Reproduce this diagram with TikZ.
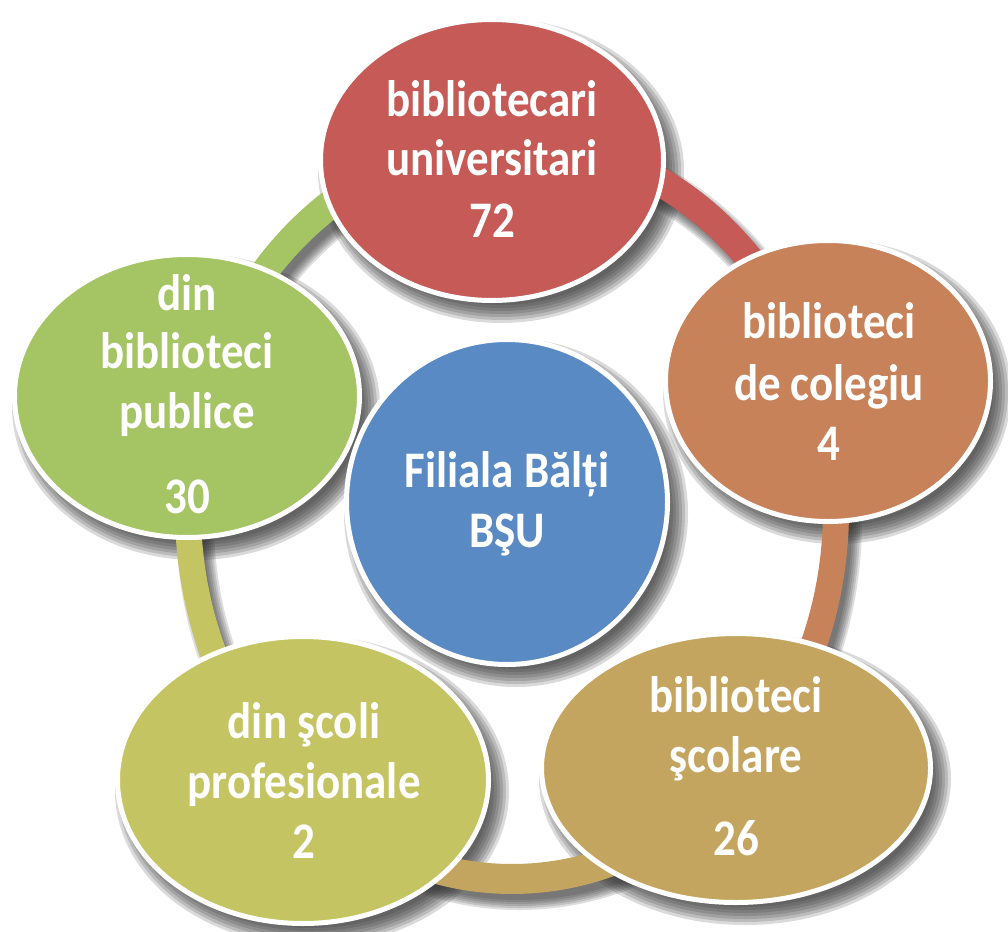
\documentclass[tikz,border=0pt]{standalone}
\usepackage{fontspec}
\newfontfamily\labfont{Carlito}[FakeStretch=0.877]
\usetikzlibrary{calc,shapes.geometric}
\definecolor{cred}{RGB}{197,90,87}
\definecolor{corange}{RGB}{199,130,90}
\definecolor{ctan}{RGB}{196,165,95}
\definecolor{cyg}{RGB}{196,196,99}
\definecolor{cgreen}{RGB}{165,196,99}
\definecolor{cblue}{RGB}{90,138,196}
\definecolor{shadowgray}{RGB}{50,50,50}
\newcommand\ellshadow[3]{%
  \foreach \k in {0,...,6}{%
    \fill[shadowgray, opacity=0.18] ($(#1)+(9,11)$) ellipse [x radius={#2+9-3*\k}, y radius={#3+9-3*\k}];}}
\newcommand\ringseg[3]{%
  \fill[#1] ($(rc)+(#2:337 and 384)$) arc[start angle=#2, end angle=#3, x radius=337, y radius=384]
     -- ($(rc)+(#3:311 and 354)$) arc[start angle=#3, end angle=#2, x radius=311, y radius=354] -- cycle;}
\begin{document}
\begin{tikzpicture}[x=1pt,y=-1pt,
  bubble/.style={ellipse, draw=white, line width=5pt, inner sep=0pt},
  lab/.style={text=white, font=\labfont\bfseries\fontsize{51.3}{60}\selectfont, anchor=base, inner sep=0pt}]
\useasboundingbox (0,0) rectangle (1008,931);
\fill[white] (0,0) rectangle (1008,931);
% centres
\coordinate (rc) at (512,510);
\coordinate (cR) at (492,160);
\coordinate (cO) at (828,381);
\coordinate (cT) at (736,768);
\coordinate (cY) at (303,780);
\coordinate (cG) at (187,396);
\coordinate (cB) at (507,502);
% shadows of bubbles
\ellshadow{cR}{174}{143}
\ellshadow{cO}{165}{143}
\ellshadow{cT}{197}{137}
\ellshadow{cY}{188}{146}
\ellshadow{cG}{175}{144}
\ellshadow{cB}{163}{165}
% ring shadow
\foreach \k in {0,...,5}{%
  \fill[shadowgray, opacity=0.16, even odd rule] ($(rc)+(7,10)$) ellipse[x radius={337+6-2*\k}, y radius={384+6-2*\k}]
     ($(rc)+(7,10)$) ellipse[x radius={311-6+2*\k}, y radius={354-6+2*\k}];}
% ring
\ringseg{cred}{-94}{-19}
\ringseg{corange}{-20}{46}
\ringseg{ctan}{45}{132}
\ringseg{cyg}{131}{198}
\ringseg{cgreen}{197}{267}
% bubbles
\node[bubble, fill=cred, minimum width=343pt, minimum height=281pt] (red) at (cR) {};
\node[bubble, fill=corange, minimum width=325pt, minimum height=281pt] (orange) at (cO) {};
\node[bubble, fill=ctan, minimum width=389pt, minimum height=269pt] (tan) at (cT) {};
\node[bubble, fill=cyg, minimum width=371pt, minimum height=287pt] (yg) at (cY) {};
\node[bubble, fill=cgreen, minimum width=345pt, minimum height=283pt] (green) at (cG) {};
\node[bubble, fill=cblue, minimum width=321pt, minimum height=325pt] (blue) at (cB) {};
% labels
\node[lab] (r1) at (492,117) {bibliotecari};
\node[lab] (r2) at (492,175) {universitari};
\node[lab] (r3) at (492,237) {72};
\node[lab] (o1) at (829,338) {biblioteci};
\node[lab] (o2) at (829,400) {de colegiu};
\node[lab] (o3) at (829,460) {4};
\node[lab] (t1) at (736,712) {biblioteci};
\node[lab] (t2) at (736,772) {şcolare};
\node[lab] (t3) at (736,855) {26};
\node[lab] (y1) at (304,738) {din şcoli};
\node[lab] (y2) at (304,798) {profesionale};
\node[lab] (y3) at (304,858) {2};
\node[lab] (g1) at (187,310) {din};
\node[lab] (g2) at (187,368) {biblioteci};
\node[lab] (g3) at (187,428) {publice};
\node[lab] (g4) at (187,513) {30};
\node[lab] (b1) at (507,487) {Filiala Bălți};
\node[lab] (b2) at (507,547) {BŞU};
\end{tikzpicture}
\end{document}
